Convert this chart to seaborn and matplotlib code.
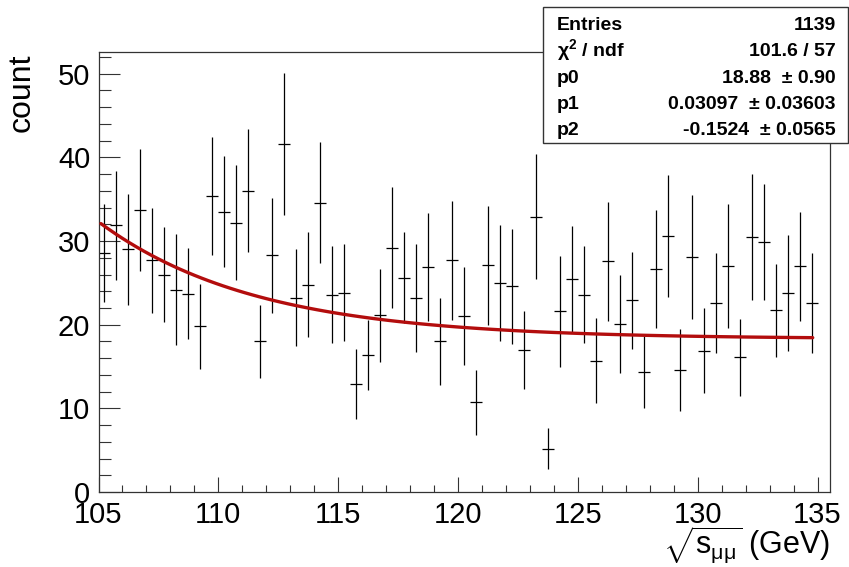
import numpy as np
import pandas as pd
import matplotlib
matplotlib.use("Agg")
import matplotlib.pyplot as plt
import seaborn as sns
from matplotlib.patches import Rectangle
from matplotlib.ticker import MultipleLocator

# histogram: 60 bins of 0.5 GeV starting at 105 GeV
bin_start = 105.0
bin_width = 0.5
counts = [28.6, 31.9, 29.0, 33.7, 27.7, 26.0, 24.2, 23.7, 19.8, 35.4,
          33.5, 32.2, 36.0, 18.0, 28.3, 41.6, 23.2, 24.8, 34.6, 23.6,
          23.8, 12.9, 16.4, 21.1, 29.2, 25.6, 23.2, 26.9, 18.0, 27.7,
          21.0, 10.7, 27.1, 25.0, 24.6, 17.0, 32.9, 5.2, 21.6, 25.5,
          23.6, 15.7, 27.6, 20.1, 22.9, 14.3, 26.7, 30.6, 14.6, 28.1,
          16.9, 22.6, 27.0, 16.1, 30.5, 29.9, 21.7, 23.8, 27.0, 22.6]
errors = [5.85, 6.5, 6.6, 7.25, 6.25, 5.65, 6.65, 5.45, 5.1, 7.05,
          6.65, 6.9, 7.35, 4.4, 6.9, 8.5, 5.8, 6.25, 7.25, 5.8,
          5.8, 4.2, 4.15, 5.6, 7.25, 5.45, 6.45, 6.4, 5.2, 7.1,
          5.85, 3.85, 7.1, 6.95, 6.9, 4.65, 7.45, 2.4, 6.6, 6.35,
          5.8, 5.05, 7.1, 5.85, 5.75, 4.3, 7.05, 7.3, 4.9, 7.4,
          5.1, 5.95, 7.4, 4.6, 7.55, 6.95, 5.6, 6.9, 6.5, 6.0]

# fitted background curve
fit_base = 18.3
fit_amp = 14.0
fit_slope = -0.1524
fit_range = (105.1, 134.8)

stat_names = ["Entries", r"$\chi^{2}$ / ndf", "p0", "p1", "p2"]
stat_values = ["1139", "101.6 / 57", "18.88  \u00b1 0.90",
               "0.03097  \u00b1 0.03603", "-0.1524  \u00b1 0.0565"]

df = pd.DataFrame({"mass": bin_start + bin_width * (np.arange(len(counts)) + 0.5),
                   "count": counts, "err": errors})
xf = np.linspace(fit_range[0], fit_range[1], 100)
fit = pd.DataFrame({"mass": xf, "count": fit_base + fit_amp * np.exp(fit_slope * (xf - bin_start))})

sns.set_theme(style="ticks")
plt.rcParams["font.family"] = ["Liberation Sans", "DejaVu Sans"]
plt.rcParams["mathtext.fontset"] = "custom"
plt.rcParams["mathtext.rm"] = "Liberation Sans"
plt.rcParams["mathtext.it"] = "Liberation Sans:italic"
plt.rcParams["mathtext.bf"] = "Liberation Sans:bold"
plt.rcParams["mathtext.default"] = "regular"
plt.rcParams["text.color"] = "black"
plt.rcParams["xtick.labelcolor"] = "black"
plt.rcParams["ytick.labelcolor"] = "black"

W, H = 849, 567
fig = plt.figure(figsize=(W / 100, H / 100), dpi=100)
fig.patch.set_facecolor("white")
ax = fig.add_axes([98.5 / W, (H - 492) / H, (829.5 - 98.5) / W, (492 - 52) / H])
ax.set_facecolor("white")

ax.errorbar(df["mass"], df["count"], yerr=df["err"], xerr=bin_width / 2,
            fmt="none", ecolor="black", elinewidth=0.9, capsize=0, zorder=2)
sns.lineplot(data=fit, x="mass", y="count", ax=ax, color="#b30d0d",
             linewidth=2.4, zorder=3)

ax.set_xlim(105, 135.5)
ax.set_ylim(0, 52.6)
ax.xaxis.set_major_locator(MultipleLocator(5))
ax.xaxis.set_minor_locator(MultipleLocator(1))
ax.yaxis.set_major_locator(MultipleLocator(10))
ax.yaxis.set_minor_locator(MultipleLocator(2))
ax.tick_params(axis="y", which="major", direction="in", length=15, width=0.8,
               labelsize=21, pad=6, color="#333333", labelcolor="black")
ax.tick_params(axis="y", which="minor", direction="in", length=8.5, width=0.8,
               color="#333333")
ax.tick_params(axis="x", which="major", direction="in", length=10.8, width=0.8,
               labelsize=21, pad=6.2, color="#333333", labelcolor="black")
ax.tick_params(axis="x", which="minor", direction="in", length=5.2, width=0.8,
               color="#333333")
for s in ax.spines.values():
    s.set_linewidth(0.9)
    s.set_color("#333333")
ax.set_xlabel("")
ax.set_ylabel("")

fig.text(22 / W, 1 - 53 / H, "count", rotation=90, ha="center", va="top", fontsize=23)
fig.text(830 / W, 1 - 554.5 / H, r"$\sqrt{s_{\mu\mu}}$ (GeV)", ha="right",
         va="baseline", fontsize=22)

# stats box
box = Rectangle((543 / W, 1 - 143 / H), (848 - 543) / W, (143 - 7) / H,
                transform=fig.transFigure, facecolor="white",
                edgecolor="#333333", linewidth=1.0, zorder=10)
fig.add_artist(box)
baselines = [29.5, 56.5, 83, 109.3, 135]
for name, val, yb in zip(stat_names, stat_values, baselines):
    fig.text(557 / W, 1 - yb / H, name, ha="left", va="baseline",
             fontsize=14, fontweight="bold", zorder=11)
    fig.text(836 / W, 1 - yb / H, val, ha="right", va="baseline",
             fontsize=14, fontweight="bold", zorder=11)

fig.savefig("out.png", dpi=100)
